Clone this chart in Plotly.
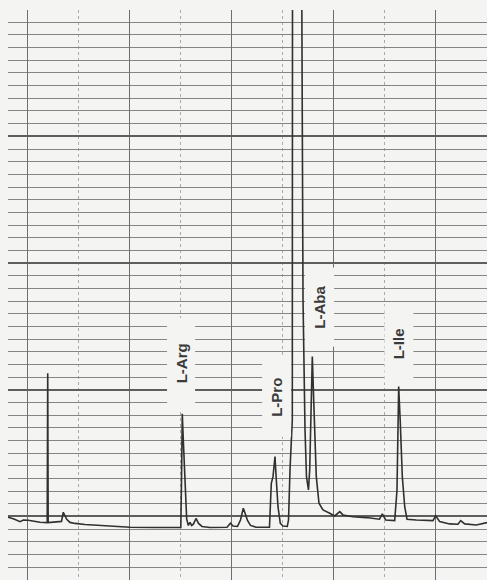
import plotly.graph_objects as go

# Recorder trace: retention time (min) vs detector response (chart divisions)
time_min = [
    -0.378, -0.261, -0.143, -0.078, 0.020, 0.118, 0.249, 0.390, 0.400, 0.409,
    0.543, 0.670, 0.705, 0.729, 0.772, 0.836, 0.934, 1.130, 1.424, 1.718,
    2.012, 2.501, 3.007, 3.021, 3.036, 3.056, 3.089, 3.122, 3.154, 3.187,
    3.220, 3.256, 3.305, 3.354, 3.422, 3.579, 3.912, 3.980, 4.029, 4.118,
    4.176, 4.231, 4.265, 4.313, 4.372, 4.480, 4.744, 4.764, 4.780, 4.813,
    4.852, 4.878, 4.911, 4.956, 5.009, 5.093, 5.117, 5.146, 5.166, 5.191,
    5.195, 5.377, 5.401, 5.440, 5.469, 5.508, 5.532, 5.557, 5.583, 5.610,
    5.630, 5.661, 5.714, 5.792, 5.924, 6.022, 6.120, 6.184, 6.380, 6.641,
    6.899, 6.954, 7.021, 7.197, 7.242, 7.275, 7.307, 7.346, 7.393, 7.438,
    7.620, 7.947, 8.000, 8.078, 8.274, 8.437, 8.490, 8.568, 8.795, 9.005,
]
response = [
    -0.06, -0.20, -0.41, -0.28, -0.30, -0.38, -0.46, -0.49, 11.31, -0.49,
    -0.46, -0.39, 0.33, 0.16, -0.22, -0.47, -0.55, -0.63, -0.71, -0.81,
    -0.85, -0.87, -0.87, 2.88, 8.10, 6.04, 2.09, -0.20, -0.71, -0.47,
    -0.71, -0.59, -0.16, -0.55, -0.79, -0.87, -0.85, -0.54, -0.75, -0.79,
    -0.28, 0.65, 0.28, -0.32, -0.71, -0.85, -0.85, 0.91, 2.62, 3.14,
    4.72, 2.88, 0.77, -0.54, -0.75, -0.79, -0.28, 3.67, 5.65, 7.62,
    41.2, 41.2, 17.10, 6.83, 3.12, 2.09, 3.67, 9.20, 12.62, 9.20,
    6.83, 3.14, 1.04, 0.51, 0.25, 0.04, 0.38, 0.12, -0.02, -0.09,
    -0.22, 0.20, -0.28, -0.33, 2.09, 10.25, 7.36, 3.14, 0.77, -0.22,
    -0.28, -0.33, 0.06, -0.41, -0.59, -0.62, -0.33, -0.59, -0.67, -0.49,
]

# Peak identifications
peak_names = ["L-Arg", "L-Pro", "L-Aba", "L-Ile"]

# Placement of the pasted label strips (centre in data units, strip length in px)
label_x = [3.020, 4.880, 5.720, 7.285]
label_y = [12.12, 9.44, 16.55, 13.59]
label_len = [90, 78, 78, 77]
label_thick = [27, 28, 28, 28]

PAPER = "#f4f4f2"
INK = "#303030"

fig = go.Figure()
fig.add_trace(go.Scatter(
    x=time_min, y=response, mode="lines",
    line=dict(color=INK, width=1.6),
    hoverinfo="skip", showlegend=False,
))

for name, lx, ly, ln, th in zip(peak_names, label_x, label_y, label_len, label_thick):
    fig.add_annotation(
        x=lx, y=ly, xref="x", yref="y", text=name, showarrow=False,
        textangle=-90, width=ln, height=th, borderpad=0,
        bgcolor=PAPER,
        font=dict(family="Liberation Sans, Arial", size=15, color="#3a3a3a", weight="bold"),
    )

fig.update_xaxes(
    range=[-0.378, 9.005], showticklabels=False, ticks="", zeroline=False,
    showline=False, tick0=0, dtick=2,
    showgrid=True, gridcolor="#6e6e6e", gridwidth=1.3,
    minor=dict(tick0=0, dtick=1, showgrid=True, gridcolor="#ababab",
               gridwidth=1, griddash="3px,3px"),
)
fig.update_yaxes(
    range=[-5.016, 39.97], showticklabels=False, ticks="", zeroline=False,
    showline=False, tick0=0, dtick=10,
    showgrid=True, gridcolor="#5e5e5e", gridwidth=1.6,
    minor=dict(tick0=0, dtick=1, showgrid=True, gridcolor="#858585", gridwidth=1),
)

fig.update_layout(
    width=487, height=580, autosize=False,
    margin=dict(l=8, r=0, t=10, b=0),
    paper_bgcolor=PAPER, plot_bgcolor=PAPER,
    showlegend=False,
)

fig.write_html("out.html")
